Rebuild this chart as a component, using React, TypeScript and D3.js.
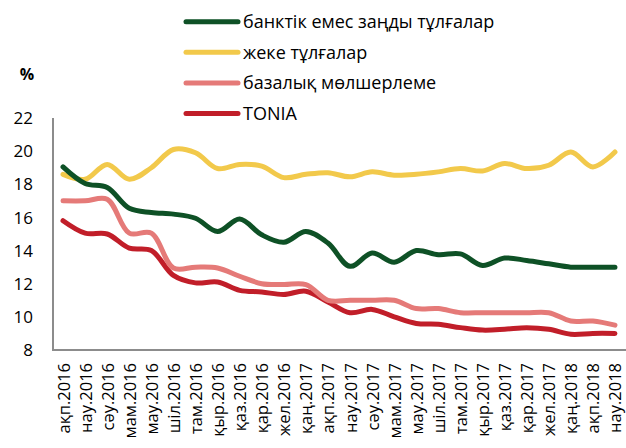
import { useEffect, useRef } from "react";
import * as d3 from "d3";

const months = [
  "ақп.2016", "нау.2016", "сәу.2016", "мам.2016", "мау.2016", "шіл.2016",
  "там.2016", "қыр.2016", "қаз.2016", "қар.2016", "жел.2016", "қаң.2017",
  "ақп.2017", "нау.2017", "сәу.2017", "мам.2017", "мау.2017", "шіл.2017",
  "там.2017", "қыр.2017", "қаз.2017", "қар.2017", "жел.2017", "қаң.2018",
  "ақп.2018", "нау.2018",
];

const legalEntities = [
  19.05, 18.05, 17.8, 16.55, 16.3, 16.2, 15.95, 15.15, 15.9, 14.95, 14.5, 15.15,
  14.45, 13.05, 13.85, 13.3, 14.0, 13.75, 13.8, 13.1, 13.55, 13.4, 13.2, 13.0,
  13.0, 13.0,
];
const individuals = [
  18.6, 18.3, 19.2, 18.3, 19.0, 20.1, 19.9, 18.95, 19.2, 19.1, 18.4, 18.6,
  18.7, 18.45, 18.75, 18.55, 18.6, 18.75, 18.95, 18.8, 19.25, 18.95, 19.15, 19.95,
  19.05, 19.95,
];
const baseRate = [
  17.0, 17.0, 17.1, 15.05, 15.05, 12.95, 13.0, 12.95, 12.45, 12.0, 11.95, 11.95,
  11.0, 11.0, 11.0, 11.0, 10.5, 10.5, 10.25, 10.25, 10.25, 10.25, 10.25, 9.75,
  9.75, 9.5,
];
const tonia = [
  15.8, 15.05, 15.0, 14.15, 14.0, 12.5, 12.05, 12.1, 11.6, 11.5, 11.35, 11.55,
  10.9, 10.25, 10.45, 10.0, 9.6, 9.55, 9.35, 9.2, 9.25, 9.35, 9.25, 8.95,
  9.0, 9.0,
];

const seriesNames = ["банктік емес заңды тұлғалар", "жеке тұлғалар", "базалық мөлшерлеме", "TONIA"];
const seriesColors = ["#0e5126", "#f2c94b", "#e57a78", "#c11e29"];
const yTicks = [8, 10, 12, 14, 16, 18, 20, 22];

const W = 626;
const H = 448;
const FONT = "'Open Sans', 'Liberation Sans', Arial, sans-serif";

export default function App() {
  const ref = useRef<SVGSVGElement | null>(null);

  useEffect(() => {
    const el = ref.current;
    if (!el) return;
    const svg = d3.select(el);
    svg.selectAll("*").remove();

    const left = 53;
    const top = 118;
    const bottom = 350;

    const x = d3.scaleBand<string>().domain(months).range([52, 626]);
    const y = d3.scaleLinear().domain([8, 22]).range([bottom, top]);
    const cx = (m: string) => (x(m) ?? 0) + x.bandwidth() / 2;

    // axes
    svg.append("line")
      .attr("x1", left).attr("x2", left).attr("y1", top).attr("y2", bottom)
      .attr("stroke", "#8c8c8c").attr("stroke-width", 2);
    svg.append("line")
      .attr("x1", left - 1).attr("x2", W).attr("y1", bottom).attr("y2", bottom)
      .attr("stroke", "#8c8c8c").attr("stroke-width", 2);

    svg.append("g")
      .selectAll("text")
      .data(yTicks)
      .join("text")
      .attr("x", 33)
      .attr("y", (d) => y(d))
      .attr("dy", "0.36em")
      .attr("text-anchor", "end")
      .attr("font-family", FONT)
      .attr("font-size", 17)
      .attr("fill", "#000")
      .text((d) => d);

    svg.append("text")
      .attr("x", 27).attr("y", 80)
      .attr("text-anchor", "middle")
      .attr("font-family", FONT)
      .attr("font-size", 16)
      .attr("font-weight", "bold")
      .text("%");

    svg.append("g")
      .selectAll("text")
      .data(months)
      .join("text")
      .attr("transform", (d) => `translate(${cx(d) + 6.5},${bottom + 13}) rotate(-90)`)
      .attr("text-anchor", "end")
      .attr("font-family", FONT)
      .attr("font-size", 16.5)
      .attr("fill", "#000")
      .text((d) => d);

    // lines
    const all = [legalEntities, individuals, baseRate, tonia];
    const line = d3.line<number>()
      .x((_, i) => cx(months[i]))
      .y((d) => y(d))
      .curve(d3.curveCatmullRom.alpha(0.5));

    const order = [3, 2, 1, 0];
    svg.append("g")
      .selectAll("path")
      .data(order)
      .join("path")
      .attr("d", (k) => line(all[k]))
      .attr("fill", "none")
      .attr("stroke", (k) => seriesColors[k])
      .attr("stroke-width", 5)
      .attr("stroke-linecap", "round")
      .attr("stroke-linejoin", "round");

    // legend
    const lg = svg.append("g");
    seriesNames.forEach((name, i) => {
      const ly = 21.7 + i * 30.6;
      lg.append("line")
        .attr("x1", 186).attr("x2", 238).attr("y1", ly).attr("y2", ly)
        .attr("stroke", seriesColors[i]).attr("stroke-width", 5)
        .attr("stroke-linecap", "round");
      lg.append("text")
        .attr("x", 243).attr("y", ly)
        .attr("dy", "0.36em")
        .attr("font-family", FONT)
        .attr("font-size", 18)
        .attr("fill", "#000")
        .text(name);
    });
  }, []);

  return (
    <svg
      ref={ref}
      width={W}
      height={H}
      style={{ position: "absolute", left: 0, top: 0, background: "#fff" }}
    />
  );
}
